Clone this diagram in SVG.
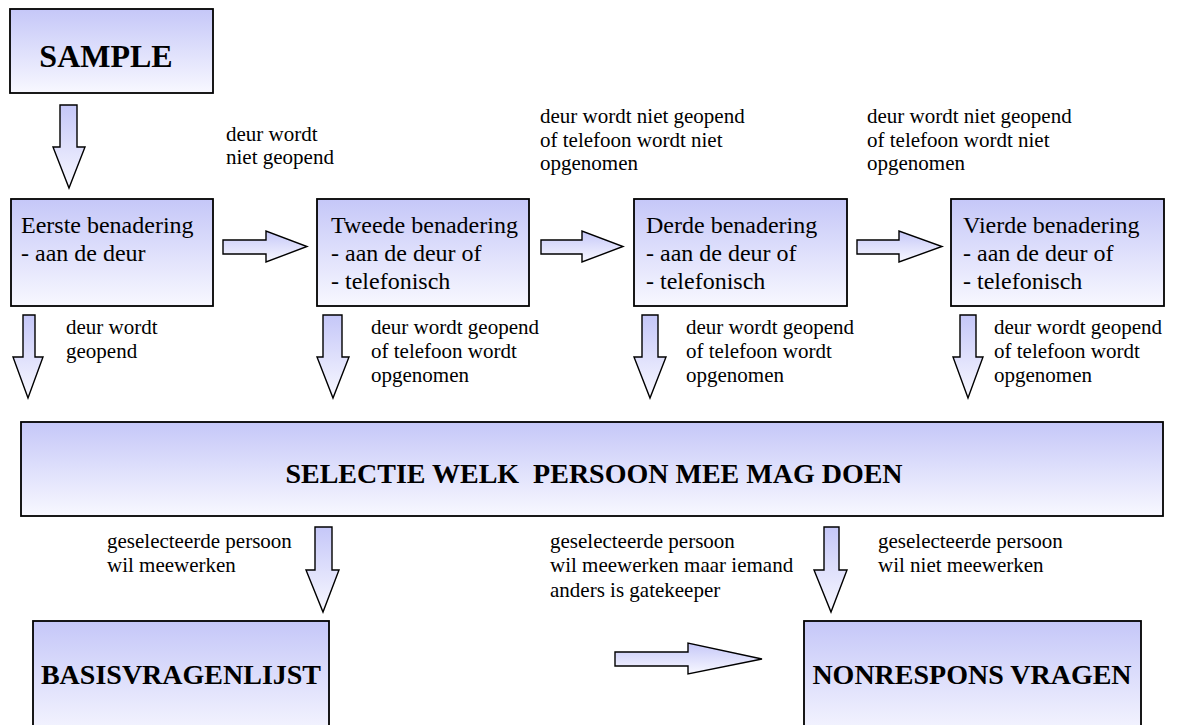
<svg xmlns="http://www.w3.org/2000/svg" width="1183" height="725" viewBox="0 0 1183 725" font-family="'Liberation Serif', 'Times New Roman', serif">
<defs>
<linearGradient id="g" x1="0" y1="0" x2="0" y2="1">
<stop offset="0" stop-color="#c5c7f8"/>
<stop offset="1" stop-color="#f8f8ff"/>
</linearGradient>
<style>
.box{fill:url(#g);stroke:#000;stroke-width:1.8}
.arr{fill:url(#g);stroke:#000;stroke-width:1.4;stroke-linejoin:miter}
.t{font-family:"Liberation Serif","Times New Roman",serif;fill:#000}
.bt{font-size:24px}
.lb{font-size:21px}
.h{font-weight:bold;text-anchor:middle}
</style>
</defs>
<rect width="1183" height="725" fill="#fff"/>
<g id="sample"><rect class="box" x="10" y="9" width="203" height="84"/><text class="t h" x="106" y="67" font-size="32">SAMPLE</text></g>
<g id="eerste"><rect class="box" x="11" y="199" width="202" height="107"/><text class="t bt" x="21" y="233">Eerste benadering</text><text class="t bt" x="21" y="261">- aan de deur</text></g>
<g id="tweede"><rect class="box" x="317" y="199" width="212" height="107"/><text class="t bt" x="331" y="233">Tweede benadering</text><text class="t bt" x="331" y="261">- aan de deur of</text><text class="t bt" x="331" y="289">- telefonisch</text></g>
<g id="derde"><rect class="box" x="634" y="199" width="213" height="107"/><text class="t bt" x="646" y="233">Derde benadering</text><text class="t bt" x="646" y="261">- aan de deur of</text><text class="t bt" x="646" y="289">- telefonisch</text></g>
<g id="vierde"><rect class="box" x="951" y="199" width="213" height="107"/><text class="t bt" x="963" y="233">Vierde benadering</text><text class="t bt" x="963" y="261">- aan de deur of</text><text class="t bt" x="963" y="289">- telefonisch</text></g>
<g id="selectie"><rect class="box" x="21" y="422" width="1142" height="94"/><text class="t h" x="594" y="483" font-size="28" xml:space="preserve">SELECTIE WELK  PERSOON MEE MAG DOEN</text></g>
<g id="basis"><rect class="box" x="33" y="621" width="296" height="120"/><text class="t h" x="181" y="684" font-size="28">BASISVRAGENLIJST</text></g>
<g id="nonrespons"><rect class="box" x="804" y="621" width="337" height="120"/><text class="t h" x="972" y="684" font-size="28">NONRESPONS VRAGEN</text></g>
<g id="connectors">
<polygon class="arr" points="60,105 77,105 77,147 85,147 69,188 53,147 60,147"/>
<polygon class="arr" points="223,240 266,240 266,231 307,246.5 266,262 266,254 223,254"/>
<polygon class="arr" points="541,240 582,240 582,231 623,246.5 582,262 582,254 541,254"/>
<polygon class="arr" points="857,240 899,240 899,231 942,246.5 899,262 899,254 857,254"/>
<polygon class="arr" points="23,315 35,315 35,357 43,357 28,398 13,357 23,357"/>
<polygon class="arr" points="323,315 342,315 342,357 349,357 333,398 317,357 323,357"/>
<polygon class="arr" points="642,315 658,315 658,357 666,357 650,398 634,357 642,357"/>
<polygon class="arr" points="960,315 976,315 976,357 983,357 968,398 953,357 960,357"/>
<polygon class="arr" points="315,527 332,527 332,570 339,570 323,612 306,570 315,570"/>
<polygon class="arr" points="824,527 839,527 839,570 847,570 831,612 814,570 824,570"/>
<polygon class="arr" points="615,652 688,652 688,643 762,659 688,674 688,666 615,666"/>
</g>
<g id="labels" class="t lb">
<text x="226" y="141">deur wordt</text><text x="226" y="164">niet geopend</text>
<text x="540" y="123">deur wordt niet geopend</text><text x="540" y="147">of telefoon wordt niet</text><text x="540" y="170">opgenomen</text>
<text x="867" y="123">deur wordt niet geopend</text><text x="867" y="147">of telefoon wordt niet</text><text x="867" y="170">opgenomen</text>
<text x="66" y="334">deur wordt</text><text x="66" y="358">geopend</text>
<text x="371" y="334">deur wordt geopend</text><text x="371" y="358">of telefoon wordt</text><text x="371" y="382">opgenomen</text>
<text x="686" y="334">deur wordt geopend</text><text x="686" y="358">of telefoon wordt</text><text x="686" y="382">opgenomen</text>
<text x="994" y="334">deur wordt geopend</text><text x="994" y="358">of telefoon wordt</text><text x="994" y="382">opgenomen</text>
<text x="107" y="548">geselecteerde persoon</text><text x="107" y="572">wil meewerken</text>
<text x="550" y="548">geselecteerde persoon</text><text x="550" y="572">wil meewerken maar iemand</text><text x="550" y="597">anders is gatekeeper</text>
<text x="878" y="548">geselecteerde persoon</text><text x="878" y="572">wil niet meewerken</text>
</g>
</svg>
